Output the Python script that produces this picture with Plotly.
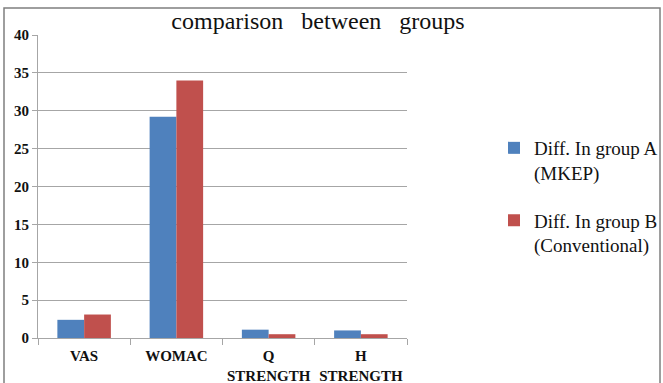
import plotly.graph_objects as go

# Outcome measures and the mean change observed in each group
categories = ["VAS", "WOMAC", "Q<br>STRENGTH", "H<br>STRENGTH"]
group_a = [2.4, 29.2, 1.1, 1.0]
group_b = [3.1, 34.0, 0.5, 0.5]
series_names = ["Diff. In group A<br>(MKEP)", "Diff. In group B<br>(Conventional)"]
series_colors = ["#4F81BD", "#C0504D"]

W, H = 663, 383
L, R, T, B = 38, 256, 35, 45
plot_w = W - L - R
plot_h = H - T - B

serif = "Liberation Serif"

fig = go.Figure()
for i, (name, vals, col) in enumerate(zip(series_names, [group_a, group_b], series_colors)):
    fig.add_trace(go.Bar(x=categories, y=vals, name=name, marker_color=col,
                         marker_line_width=0, legendgroup=f"g{i}"))

# Outer chart frame, expressed in paper units around the plot area
def px_x(px):
    return (px - L) / plot_w

def px_y(py):
    return (H - B - py) / plot_h

fig.add_shape(type="rect", xref="paper", yref="paper",
              x0=px_x(4), x1=px_x(660), y0=px_y(395), y1=px_y(8),
              line=dict(color="#7f7f7f", width=1.5), fillcolor="rgba(0,0,0,0)",
              layer="below")

fig.update_layout(
    width=W, height=H,
    margin=dict(l=L, r=R, t=T, b=B, autoexpand=False),
    paper_bgcolor="white", plot_bgcolor="white",
    barmode="group", bargap=0.42, bargroupgap=0,
    title=dict(text="comparison   between   groups", x=318 / W, xanchor="center",
               y=1 - 21 / H, yanchor="middle",
               font=dict(family=serif, size=24, color="#111111")),
    legend=dict(x=px_x(494), y=px_y(129), xanchor="left", yanchor="top",
                valign="top",
                font=dict(family=serif, size=19, color="#111111"),
                tracegroupgap=20, itemwidth=30, bgcolor="rgba(0,0,0,0)"),
    font=dict(family=serif, color="#111111"),
    showlegend=True,
)

fig.update_yaxes(range=[0, 40], dtick=5, showgrid=True, gridcolor="#a6a6a6",
                 gridwidth=1, showline=True, linecolor="#a6a6a6",
                 ticks="outside", ticklen=5, tickcolor="#a6a6a6", automargin=False,
                 tickfont=dict(family=serif, size=15, color="#111111", weight="bold"),
                 zeroline=False)
fig.update_xaxes(showline=True, linecolor="#a6a6a6", ticks="outside",
                 tickson="boundaries", ticklen=6, tickcolor="#a6a6a6",
                 tickangle=0, automargin=False, ticklabelstandoff=4,
                 tickfont=dict(family=serif, size=15, color="#111111", weight="bold"))

fig.write_html("out.html")
